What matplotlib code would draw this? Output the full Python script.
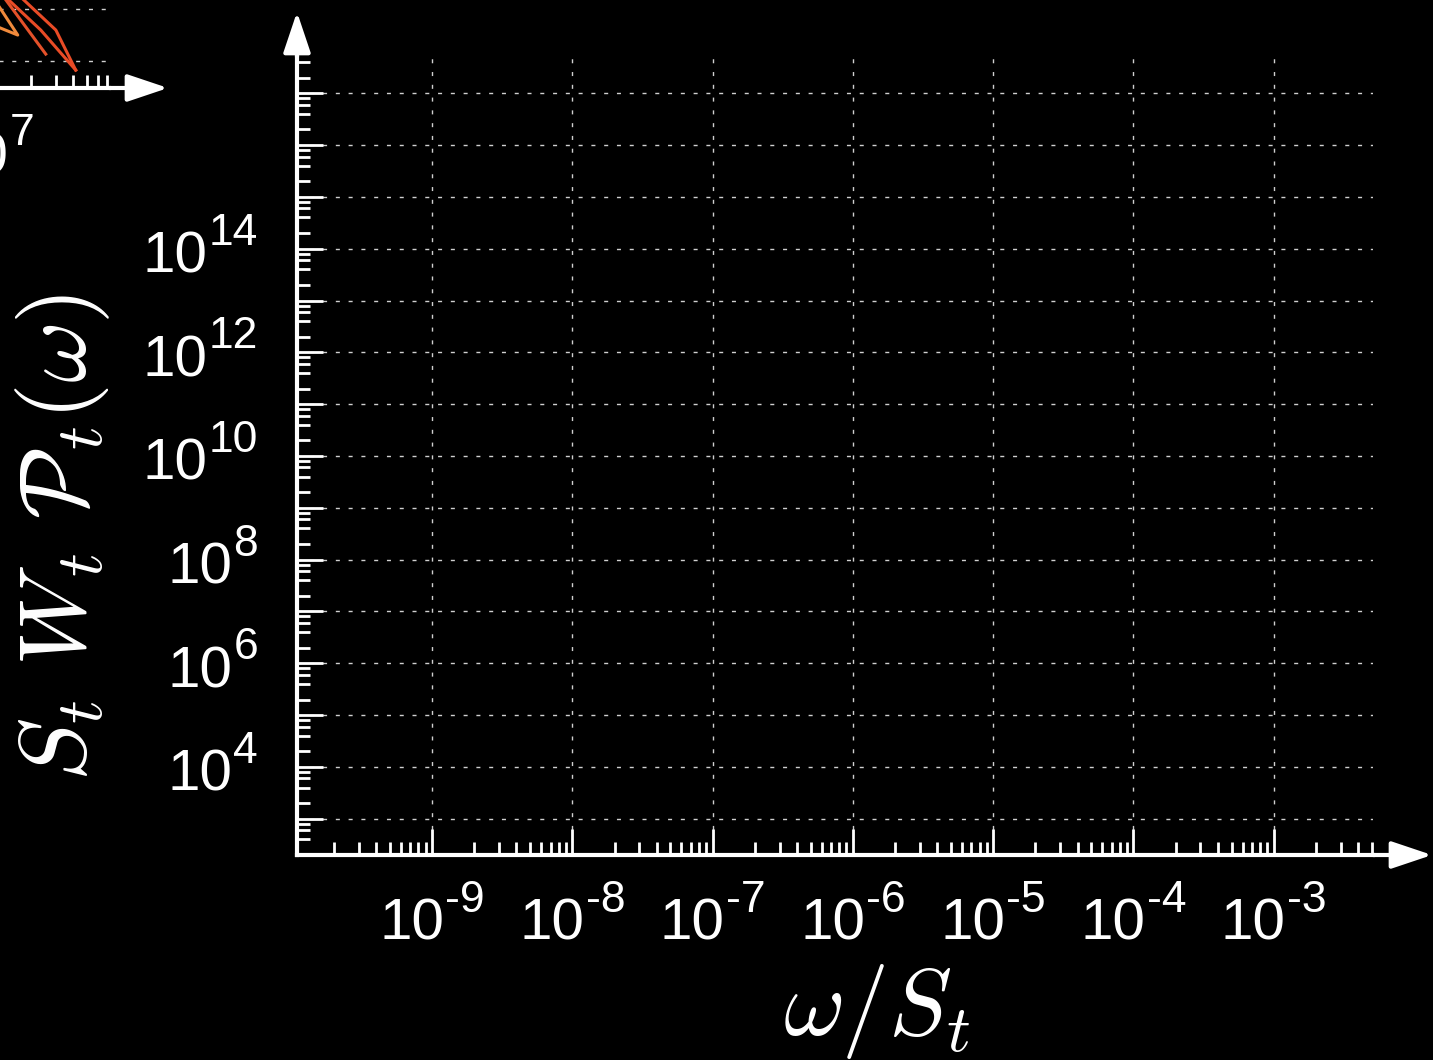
import matplotlib
matplotlib.use('Agg')
import matplotlib.pyplot as plt
from matplotlib.ticker import LogLocator, NullFormatter
import numpy as np

# main panel: empty log-log frame
x_range = (1.09e-10, 5.1e-3)
y_range = (2e2, 5e17)
x_label_exps = [-9, -8, -7, -6, -5, -4, -3]
y_label_exps = [4, 6, 8, 10, 12, 14]

# neighbour panel (cut off at the top left corner)
left_x_range = (1e3, 7.2e7)
left_y_range = (30.3, 1e6)
left_label_exps = [7]
curve1_x = [1.32e7, 2.35e7, 4.17e7]
curve1_y = [1.70e3, 394, 67]
curve2_x = [1.69e7, 3.01e7, 4.17e7]
curve2_y = [1.70e3, 394, 67]
curve3_x = [1.28e7, 2.55e7]
curve3_y = [1.70e3, 136]
curve4_x = [1.07e7, 1.61e7, 1.03e7]
curve4_y = [1.70e3, 316, 515]

plt.rcParams['font.family'] = ['Liberation Sans', 'DejaVu Sans']

W, H = 1433, 1060
fig = plt.figure(figsize=(W / 100, H / 100), dpi=100, facecolor='black')
renderer = fig.canvas.get_renderer()

GRID = dict(color='#d0d0d0', lw=1.0, ls=(0, (2.9, 6.3)))
BASE_FS, EXP_FS = 42, 32


def style_axes(ax, xr, yr):
    ax.set_facecolor('none')
    ax.set_xscale('log')
    ax.set_yscale('log')
    ax.set_xlim(*xr)
    ax.set_ylim(*yr)
    for side in ['top', 'right']:
        ax.spines[side].set_visible(False)
    for side in ['left', 'bottom']:
        ax.spines[side].set_color('white')
        ax.spines[side].set_linewidth(3.0)
    ax.xaxis.set_major_locator(LogLocator(base=10, numticks=100))
    ax.yaxis.set_major_locator(LogLocator(base=10, numticks=100))
    ax.xaxis.set_minor_locator(LogLocator(base=10, subs=np.arange(2, 10), numticks=100))
    ax.yaxis.set_minor_locator(LogLocator(base=10, subs=[2, 4, 6, 8], numticks=100))
    ax.xaxis.set_minor_formatter(NullFormatter())
    ax.yaxis.set_minor_formatter(NullFormatter())
    ax.tick_params(which='both', direction='in', colors='white', top=False, right=False,
                   labelbottom=False, labelleft=False)
    ax.tick_params(which='major', length=18.7, width=2.0)
    ax.tick_params(which='minor', length=9.4, width=2.0)
    ax.grid(True, which='major', **GRID)


def power_text(ax, e, axis):
    # "10" plus a raised exponent, laid out by hand
    if axis == 'x':
        xy, coords = (10.0 ** e, 0), ('data', 'axes fraction')
    else:
        xy, coords = (0, 10.0 ** e), ('axes fraction', 'data')
    kw = dict(xy=xy, xycoords=coords, textcoords='offset pixels', color='white',
              va='baseline', ha='left', annotation_clip=False)
    base = ax.annotate('10', xytext=(0, 0), fontsize=BASE_FS, **kw)
    sup = ax.annotate(str(e), xytext=(0, 0), fontsize=EXP_FS, **kw)
    wb = base.get_window_extent(renderer).width
    ws = sup.get_window_extent(renderer).width
    gap = 1
    if axis == 'x':
        left = -(wb + gap + ws) / 2
        base.xyann = (left, -85)
        sup.xyann = (left + wb + gap, -57)
    else:
        right = -39
        sup.xyann = (right - ws, 4)
        base.xyann = (right - ws - gap - wb, -24)


# ---- main panel
ax = fig.add_axes([297 / W, (H - 855) / H, 1076 / W, 798 / H])
style_axes(ax, x_range, y_range)
for e in x_label_exps:
    power_text(ax, e, 'x')
for e in y_label_exps:
    power_text(ax, e, 'y')

ax.set_xlabel(r'$\omega/S_t$', fontsize=68, color='white', math_fontfamily='cm')
ax.set_ylabel(r'$S_t\ W_t\ \mathcal{P}_t(\omega)$', fontsize=68, color='white',
              math_fontfamily='cm')
ax.xaxis.set_label_coords(0.539, -0.134)
ax.yaxis.set_label_coords(-0.172, 0.398)

arrow = dict(arrowstyle='-|>,head_length=1.25,head_width=0.42', lw=3.0, color='white',
             shrinkA=0, shrinkB=0, mutation_scale=20)
ax.annotate('', xy=(1432, H - 855), xytext=(1373, H - 855), xycoords='figure pixels',
            textcoords='figure pixels', arrowprops=arrow, annotation_clip=False)
ax.annotate('', xy=(297, H - 12), xytext=(297, H - 57), xycoords='figure pixels',
            textcoords='figure pixels', arrowprops=arrow, annotation_clip=False)

# ---- left neighbour panel, mostly outside the canvas
lw_px = 140.3 * np.log10(left_x_range[1] / left_x_range[0])
lh_px = 52.0 * np.log10(left_y_range[1] / left_y_range[0])
axl = fig.add_axes([(109 - lw_px) / W, (H - 88) / H, lw_px / W, lh_px / H])
style_axes(axl, left_x_range, left_y_range)
for e in left_label_exps:
    power_text(axl, e, 'x')
axl.plot(curve1_x, curve1_y, color='#e94b26', lw=2.2, clip_on=False)
axl.plot(curve2_x, curve2_y, color='#e94b26', lw=2.2, clip_on=False)
axl.plot(curve3_x, curve3_y, color='#e4512a', lw=2.2, clip_on=False)
axl.plot(curve4_x, curve4_y, color='#f08a3c', lw=2.2, clip_on=False)
axl.annotate('', xy=(168, H - 88), xytext=(109, H - 88), xycoords='figure pixels',
             textcoords='figure pixels', arrowprops=arrow, annotation_clip=False)

fig.savefig('out.png', dpi=100, facecolor='black')
